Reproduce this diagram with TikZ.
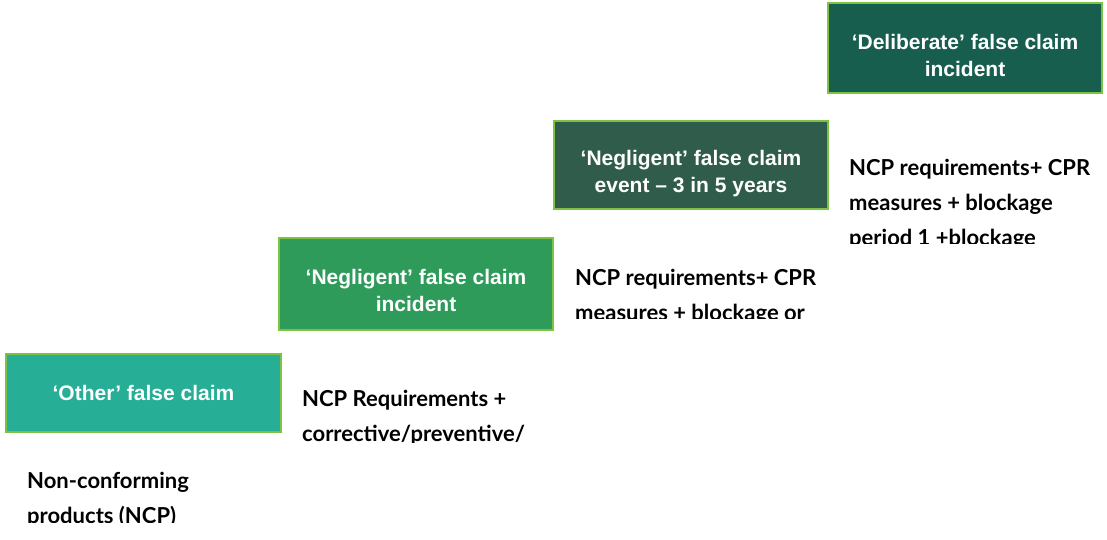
\documentclass[tikz,border=0pt]{standalone}
\usepackage{fontspec}
\setmainfont{Liberation Sans}
\newfontfamily\blkfont{Lato}
\definecolor{edgegreen}{HTML}{7DC242}
\definecolor{fillA}{HTML}{26AE96}
\definecolor{fillB}{HTML}{2E9B5B}
\definecolor{fillC}{HTML}{2F5C4B}
\definecolor{fillD}{HTML}{185E4E}
\begin{document}
\begin{tikzpicture}[x=1pt,y=-1pt,
  boxedge/.style={draw=edgegreen,line width=1.5pt},
  steptext/.style={text=white,align=center,
    font=\fontsize{21}{27}\selectfont\bfseries,inner sep=0pt},
  desc/.style={anchor=base west,align=left,inner sep=0pt,
    font=\blkfont\fontsize{22}{35}\selectfont\bfseries}]
\useasboundingbox (0,0) rectangle (1107,540);
% boxes
\filldraw[fillA,boxedge] (6,354) rectangle (281,432);
\node[steptext] (b1) at (143.5,393) {‘Other’ false claim};
\filldraw[fillB,boxedge] (279,238) rectangle (553,330);
\node[steptext] (b2) at (416,290) {‘Negligent’ false claim\\incident};
\filldraw[fillC,boxedge] (554,121) rectangle (828,209);
\node[steptext] (b3) at (691,174) {‘Negligent’ false claim\\event – 3 in 5 years};
\filldraw[fillD,boxedge] (828,3) rectangle (1102,93);
\node[steptext] (b4) at (965,55) {‘Deliberate’ false claim\\incident};
% descriptions (clipped like the reference)
\begin{scope}
\clip (20,455) rectangle (280,522);
\node[desc] (t0) at (27,523) {Non-conforming\\products (NCP)};
\end{scope}
\begin{scope}
\clip (295,380) rectangle (560,442);
\node[desc] (t1) at (302,476) {NCP Requirements +\\corrective/preventive/\\measures};
\end{scope}
\begin{scope}
\clip (570,260) rectangle (830,318);
\node[desc] (t2) at (575,355) {NCP requirements+ CPR\\measures + blockage or\\suspension};
\end{scope}
\begin{scope}
\clip (845,150) rectangle (1107,243);
\node[desc] (t3) at (849,280) {NCP requirements+ CPR\\measures + blockage\\period 1 +blockage\\period 2};
\end{scope}
\end{tikzpicture}
\end{document}
